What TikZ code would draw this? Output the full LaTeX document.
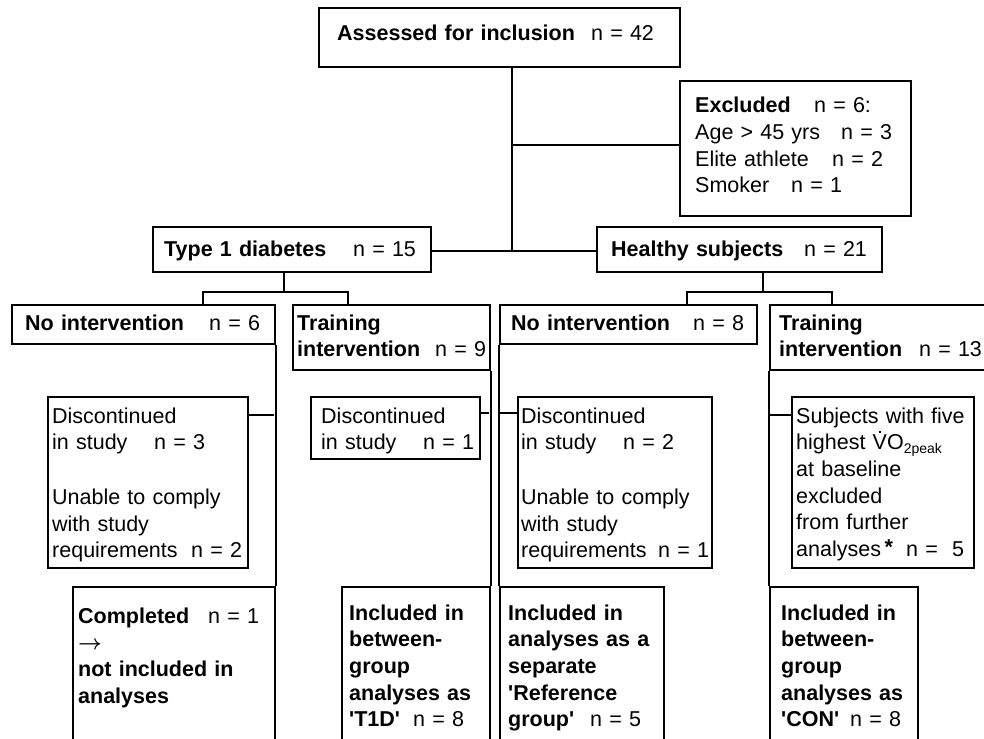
\documentclass[tikz,border=0pt]{standalone}
\usepackage{fontspec}
\setmainfont{Liberation Sans}[Ligatures=TeXOff]
\usetikzlibrary{calc}
\newcommand\npos[2]{\makebox[#1pt][l]{#2}}
\newcommand\lowsub[1]{\raisebox{-3.5pt}{\fontsize{14}{14}\selectfont #1}}
\newcommand\vdotted{\makebox[0pt][l]{\hspace{6.5pt}\smash{\raisebox{17pt}{\rule{2pt}{2pt}}}}V}
\begin{document}
\begin{tikzpicture}[x=1pt,y=-1pt,
 box/.style={draw=black, line width=1.8pt, inner sep=0pt, anchor=north west},
 txt/.style={anchor=base west, inner sep=0pt, align=left, text width=400pt, font=\fontsize{21.5}{26.7}\selectfont},
 link/.style={draw=black, line width=1.8pt}]
\useasboundingbox (0,0) rectangle (984,738);
\clip (0,0) rectangle (984,738);
\fill[white] (0,0) rectangle (984,738);
% boxes
\node[box, minimum width=361pt, minimum height=59pt]  (top)  at (318,7)   {};
\node[box, minimum width=231pt, minimum height=135pt] (excl) at (679,80)  {};
\node[box, minimum width=278pt, minimum height=45pt]  (t1d)  at (152,226) {};
\node[box, minimum width=285pt, minimum height=45pt]  (hs)   at (596,226) {};
\node[box, minimum width=263pt, minimum height=39pt]  (ni1)  at (11,304)  {};
\node[box, minimum width=197pt, minimum height=65pt]  (ti1)  at (292,304) {};
\node[box, minimum width=257pt, minimum height=39pt]  (ni2)  at (499,304) {};
\node[box, minimum width=240pt, minimum height=65pt]  (ti2)  at (769,304) {};
\node[box, minimum width=200pt, minimum height=171pt] (dc1)  at (47,396)  {};
\node[box, minimum width=169pt, minimum height=62pt]  (dc2)  at (310,396) {};
\node[box, minimum width=194pt, minimum height=171pt] (dc3)  at (517,396) {};
\node[box, minimum width=182pt, minimum height=171pt] (ex4)  at (791,396) {};
\node[box, minimum width=202pt, minimum height=180pt] (comp) at (72,586)  {};
\node[box, minimum width=148pt, minimum height=180pt] (inc1) at (341,586) {};
\node[box, minimum width=164pt, minimum height=180pt] (inc2) at (499,586) {};
\node[box, minimum width=148pt, minimum height=180pt] (inc3) at (769,586) {};
% texts
\node[txt] (ttop) at (337,40.7) {\npos{254}{\textbf{Assessed for inclusion}}n = 42};
\node[txt] (texcl) at (695,112.7) {\npos{119}{\textbf{Excluded}}n = 6:\\
 \npos{146}{Age > 45 yrs}n = 3\\
 \npos{137}{Elite athlete}n = 2\\
 \npos{96}{Smoker}n = 1};
\node[txt] (tt1d) at (164,256) {\npos{189}{\textbf{Type 1 diabetes}}n = 15};
\node[txt] (ths) at (611,256) {\npos{193}{\textbf{Healthy subjects}}n = 21};
\node[txt] (tni1) at (25,330) {\npos{184}{\textbf{No intervention}}n = 6};
\node[txt] (tti1) at (297,330) {\textbf{Training}\\\npos{138}{\textbf{intervention}}n = 9};
\node[txt] (tni2) at (511,330) {\npos{182}{\textbf{No intervention}}n = 8};
\node[txt] (tti2) at (779,330) {\textbf{Training}\\\npos{140}{\textbf{intervention}}n = 13};
\node[txt] (tdc1) at (52,423) {Discontinued\\\npos{102}{in study}n = 3\\[28pt]
 Unable to comply\\with study\\\npos{139}{requirements}n = 2};
\node[txt] (tdc2) at (321,423) {Discontinued\\\npos{102}{in study}n = 1};
\node[txt] (tdc3) at (521,423) {Discontinued\\\npos{102}{in study}n = 2\\[28pt]
 Unable to comply\\with study\\\npos{137}{requirements}n = 1};
\node[txt] (tex4) at (796,423) {Subjects with five\\highest \vdotted O\lowsub{2peak}\\at baseline\\excluded\\from further\\
 \npos{110}{analyses\,\raisebox{2pt}{\textbf{*}}}n = \hspace{7pt}5};
\node[txt] (tcomp) at (78,623) {\npos{130}{\textbf{Completed}}n = 1\\{\boldmath$\rightarrow$}\\\textbf{not included in}\\\textbf{analyses}};
\node[txt] (tinc1) at (349,620) {\textbf{Included in}\\\textbf{between-}\\\textbf{group}\\\textbf{analyses as}\\\npos{64}{\textbf{'T1D'}}n = 8};
\node[txt] (tinc2) at (508,620) {\textbf{Included in}\\\textbf{analyses as a}\\\textbf{separate}\\\textbf{'Reference}\\\npos{82}{\textbf{group'}}n = 5};
\node[txt] (tinc3) at (781,620) {\textbf{Included in}\\\textbf{between-}\\\textbf{group}\\\textbf{analyses as}\\\npos{69}{\textbf{'CON'}}n = 8};
% coordinates
\coordinate (j1) at (512,251);
\coordinate (jx) at (512,145);
\coordinate (s1) at (284,292);
\coordinate (a1) at (203,292);
\coordinate (b1) at (348,292);
\coordinate (s2) at (763,292);
\coordinate (a2) at (687,292);
\coordinate (b2) at (832,292);
\coordinate (c1) at (274,415);
\coordinate (c2) at (489,413);
\coordinate (c3) at (499,413);
\coordinate (c4) at (769,415);
% connectors
\draw[link] (top.south -| j1) -- (j1);
\draw[link] (jx) -- (excl.west |- jx);
\draw[link] (t1d.east |- j1) -- (hs.west |- j1);
\draw[link] (t1d.south -| s1) -- (s1);
\draw[link] (ni1.north -| a1) -- (a1) -- (b1) -- (ti1.north -| b1);
\draw[link] (hs.south -| s2) -- (s2);
\draw[link] (ni2.north -| a2) -- (a2) -- (b2) -- (ti2.north -| b2);
\draw[link] (ni1.south east) -- (comp.north east);
\draw[link] (ti1.south east) -- (inc1.north east);
\draw[link] (ni2.south west) -- (inc2.north west);
\draw[link] (ti2.south west) -- (inc3.north west);
\draw[link] (dc1.east |- c1) -- (c1);
\draw[link] (dc2.east |- c2) -- (c2);
\draw[link] (c3) -- (dc3.west |- c3);
\draw[link] (c4) -- (ex4.west |- c4);
\end{tikzpicture}
\end{document}
